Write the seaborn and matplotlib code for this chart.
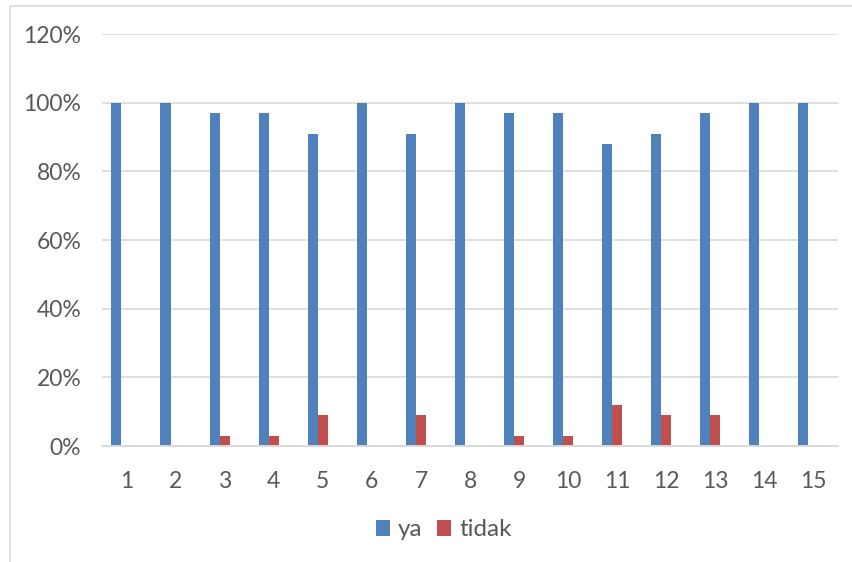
import numpy as np
import pandas as pd
import seaborn as sns
import matplotlib.pyplot as plt
from matplotlib.patches import Rectangle, Patch
from matplotlib.ticker import PercentFormatter

# Survey answers per question (share of respondents)
questions = list(range(1, 16))
ya = [1.00, 1.00, 0.97, 0.97, 0.91, 1.00, 0.91, 1.00, 0.97, 0.97, 0.88, 0.91, 0.97, 1.00, 1.00]
tidak = [0.00, 0.00, 0.03, 0.03, 0.09, 0.00, 0.09, 0.00, 0.03, 0.03, 0.12, 0.09, 0.09, 0.00, 0.00]
series_names = ["ya", "tidak"]
series_colors = ["#4f81bd", "#c0504d"]
y_ticks = [0, 0.2, 0.4, 0.6, 0.8, 1.0, 1.2]

sns.set_theme(style="white")
plt.rcParams["font.family"] = ["Lato", "DejaVu Sans"]
text_color = "#595959"
grid_color = "#d9d9d9"

fig = plt.figure(figsize=(8.52, 5.62), dpi=100)
ax = fig.add_axes([0.1197, 0.2064, 0.8639, 0.7331])

# chart-area frame
fig.patches.append(Rectangle((10 / 852, -0.01), 1.0, 1 - 6 / 562 + 0.01,
                             transform=fig.transFigure, fill=False,
                             edgecolor=grid_color, linewidth=1.2))

q = np.array(questions, dtype=float)
bar_w = 0.205
# clustered bars: "ya" sits one slot left of the category centre, "tidak" on it
sns.barplot(x=q - bar_w, y=ya, native_scale=True, width=bar_w,
            color=series_colors[0], saturation=1, linewidth=0, ax=ax, zorder=3)
sns.barplot(x=q, y=tidak, native_scale=True, width=bar_w,
            color=series_colors[1], saturation=1, linewidth=0, ax=ax, zorder=3)

ax.set_xlim(0.5, 15.5)
ax.set_ylim(0, 1.2)
ax.set_xticks(questions)
ax.set_xticklabels([str(v) for v in questions])
ax.set_yticks(y_ticks)
ax.yaxis.set_major_formatter(PercentFormatter(1.0, decimals=0))
ax.set_xlabel("")
ax.set_ylabel("")

ax.grid(axis="y", color=grid_color, linewidth=1.2, zorder=0)
ax.grid(axis="x", visible=False)
for side in ["top", "right", "left"]:
    ax.spines[side].set_visible(False)
ax.spines["bottom"].set_color(grid_color)
ax.spines["bottom"].set_linewidth(1.4)
ax.spines["bottom"].set_zorder(4)

ax.tick_params(axis="both", length=0, labelcolor=text_color, labelsize=16.5)
ax.tick_params(axis="x", pad=18)
ax.tick_params(axis="y", pad=15)

handles = [Patch(facecolor=c, edgecolor="none") for c in series_colors]
fig.legend(handles, series_names, loc="center", bbox_to_anchor=(444 / 852, 1 - 530 / 562),
           ncol=2, frameon=False, fontsize=17.5, labelcolor=text_color,
           handlelength=0.55, handleheight=0.62, handletextpad=0.35, columnspacing=0.6)

fig.savefig("out.png", dpi=100, facecolor="white")
